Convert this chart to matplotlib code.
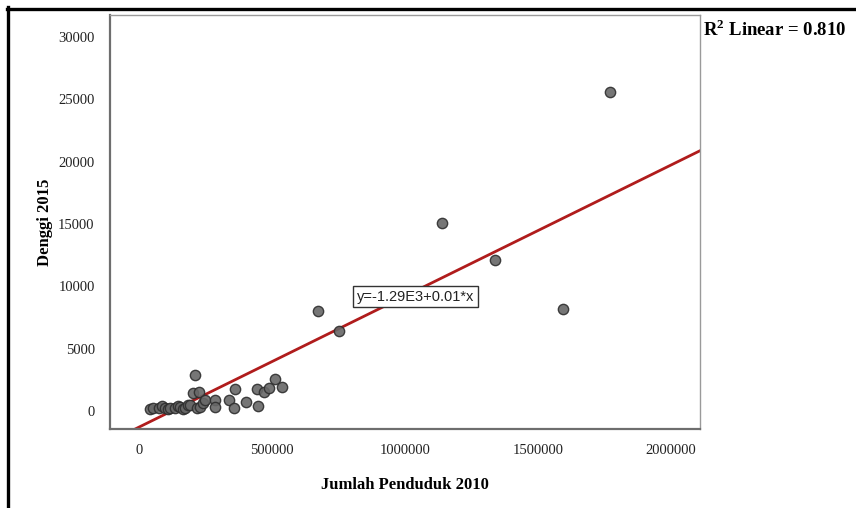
import matplotlib
matplotlib.use('Agg')
import matplotlib.pyplot as plt
from matplotlib.lines import Line2D
import numpy as np

# Data (Jumlah Penduduk 2010 vs Denggi 2015)
penduduk_2010 = [
    38800, 52700, 72700, 86600, 97900, 109200, 116700, 135600, 146900,
    154400, 165700, 173200, 184500, 192100, 202200, 210900, 217300, 223300,
    229700, 241000, 248600, 286200, 286200, 336300, 355100, 361500, 403000,
    443300, 447000, 468100, 487000, 512200, 537400,
    671500, 752000, 1138500, 1339600, 1593000, 1770000,
]
denggi_2015 = [
    140, 200, 220, 360, 265, 160, 220, 220, 400,
    345, 160, 265, 440, 480, 1420, 2890, 220, 1500,
    345, 640, 880, 880, 345, 880, 265, 1765, 700,
    1765, 425, 1550, 1870, 2570, 1900,
    8030, 6370, 15070, 12100, 8160, 25580,
]

# fit line as reported in the chart
fit_intercept = -1290
fit_slope = 0.0105
r2_label = 'R$^\\mathbf{2}$ Linear = 0.810'
eq_label = 'y=-1.29E3+0.01*x'

x_ticks = [0, 500000, 1000000, 1500000, 2000000]
y_ticks = [0, 5000, 10000, 15000, 20000, 25000, 30000]

serif = ['Liberation Serif', 'DejaVu Serif']
plt.rcParams['mathtext.fontset'] = 'custom'
plt.rcParams['mathtext.rm'] = 'Liberation Serif'
plt.rcParams['mathtext.bf'] = 'Liberation Serif:bold'

fig = plt.figure(figsize=(8.56, 5.08), dpi=100)
ax = fig.add_axes([0.1285, 0.1555, 0.6893, 0.815])

ax.scatter(penduduk_2010, denggi_2015, s=55, facecolor='#676767',
           edgecolor='#2e2e2e', linewidth=1.0, alpha=0.9, zorder=3)

xlim = (-110000, 2110000)
ylim = (-1450, 31750)
xs = np.array(xlim)
ax.plot(xs, fit_intercept + fit_slope * xs, color='#b01c1c',
        linewidth=2.0, zorder=2)

ax.set_xlim(*xlim)
ax.set_ylim(*ylim)
ax.set_xticks(x_ticks)
ax.set_yticks(y_ticks)
ax.set_xticklabels([str(v) for v in x_ticks], family=serif, fontsize=10.5,
                   color='#222222')
ax.set_yticklabels([str(v) for v in y_ticks], family=serif, fontsize=10.5,
                   color='#222222')
ax.tick_params(length=0, pad=11)

for side in ['left', 'bottom']:
    ax.spines[side].set_color('#6e6e6e')
    ax.spines[side].set_linewidth(1.6)
for side in ['top', 'right']:
    ax.spines[side].set_color('#9a9a9a')
    ax.spines[side].set_linewidth(1.0)

ax.set_xlabel('Jumlah Penduduk 2010', family=serif, fontsize=12,
              fontweight='bold', labelpad=14)
ax.set_ylabel('Denggi 2015', family=serif, fontsize=12,
              fontweight='bold', labelpad=4)

# equation box
ax.text(1039000, 9150, eq_label, family=['Liberation Sans', 'DejaVu Sans'],
        fontsize=10.5, ha='center', va='center', color='#222222', zorder=4,
        bbox=dict(boxstyle='square,pad=0.25', facecolor='white',
                  edgecolor='#333333', linewidth=1.0))

fig.text(703 / 856, 1 - 30 / 508, r2_label, family=serif, fontsize=13.5,
         fontweight='bold', ha='left', va='center')

# black frame lines on the top and left of the image
fig.add_artist(Line2D([7 / 856, 1], [1 - 8.5 / 508, 1 - 8.5 / 508],
                      color='black', linewidth=2.4,
                      transform=fig.transFigure))
fig.add_artist(Line2D([8 / 856, 8 / 856], [0, 1 - 7 / 508],
                      color='black', linewidth=2.4,
                      transform=fig.transFigure))

fig.savefig('out.png', dpi=100)
